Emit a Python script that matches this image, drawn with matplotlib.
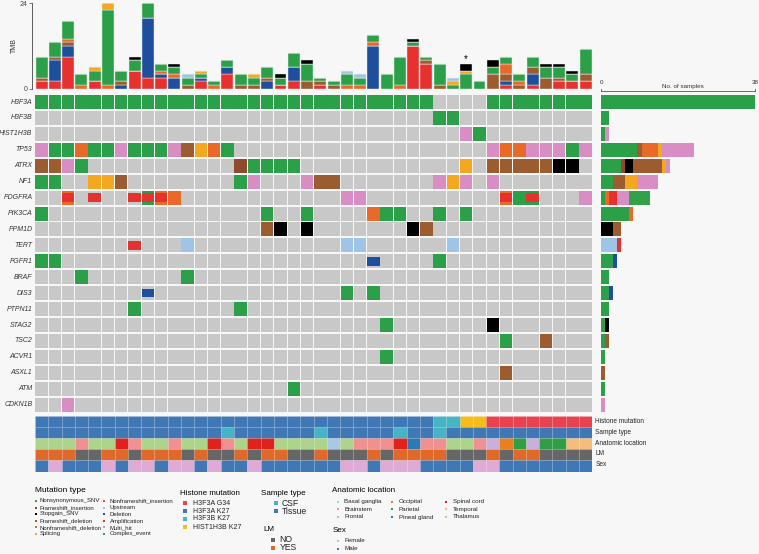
import matplotlib
matplotlib.use("Agg")
import matplotlib.pyplot as plt
from matplotlib.patches import Rectangle

plt.rcParams['font.family'] = ['Liberation Sans', 'DejaVu Sans']

W, H = 759, 554
BG = '#F7F7F7'
GRAY = '#C8C8C8'

# ---------------- data ----------------
genes = ['H3F3A', 'H3F3B', 'HIST1H3B', 'TP53', 'ATRX', 'NF1', 'PDGFRA', 'PIK3CA',
         'PPM1D', 'TERT', 'FGFR1', 'BRAF', 'DIS3', 'PTPN11', 'STAG2', 'TSC2',
         'ACVR1', 'ASXL1', 'ATM', 'CDKN1B']

# one character per sample (42 samples); '.' = no alteration
# N Nonsynonymous_SNV, I Frameshift_insertion, S Stopgain_SNV, D Frameshift_deletion,
# O Nonframeshift_deletion, P Splicing, U Upstream, L Deletion, A Amplification,
# M Multi_hit, a Nonframeshift_deletion+Amplification, b Nonsynonymous_SNV+Amplification
oncomatrix = {
    'H3F3A':    'NNNNNNNNNN NNNNNNNNNN NNNNNNNNNN ....NNNNNN NN',
    'H3F3B':    '.......... .......... .......... NN........ ..',
    'HIST1H3B': '.......... .......... .......... ..MN...... ..',
    'TP53':     'MNNONNMNNN MDPON..... .......... ....MOOMMM NM',
    'ATRX':     'DDMN...... .....INNNN .......... ..P.DDDDDS S.',
    'NF1':      'NN..PPD... .....NM... MDD....... MPM.M..... ..',
    'PDGFRA':   '..a.A..Aba O......... ...MM..... .....aNb.. .M',
    'PIK3CA':   'N......... .......N.. N....ONN.. N.N....... ..',
    'PPM1D':    '.......... .......DS. S.......SD .......... ..',
    'TERT':     '.......A.. .U........ ...UU..... .U........ ..',
    'FGFR1':    'NN........ .......... .....L.... N......... ..',
    'BRAF':     '...N...... .N........ .......... .......... ..',
    'DIS3':     '........L. .......... ...N.N.... .......... ..',
    'PTPN11':   '.......N.. .....N.... .......... .......... ..',
    'STAG2':    '.......... .......... ......N... ....S..... ..',
    'TSC2':     '.......... .......... .......... .....N..D. ..',
    'ACVR1':    '.......... .......... ......N... .......... ..',
    'ASXL1':    '.......... .......... .......... .....D.... ..',
    'ATM':      '.......... .........N .......... .......... ..',
    'CDKN1B':   '..M....... .......... .......... .......... ..',
}

# TMB stacked components per sample
tmb_amplification = [2, 2, 9, 0, 2, 0, 0, 5, 3, 3, 0, 0, 2, 0, 4, 0, 0, 0, 1, 2, 0,
                     1, 0, 0, 0, 0, 0, 0, 12, 7, 0, 0, 0, 0, 0, 1, 0, 1, 0, 2, 2, 2]
tmb_deletion = [0, 6, 3, 0, 0, 0, 1, 0, 17, 1, 3, 0, 1, 0, 2, 0, 0, 2, 0, 4, 0,
                0, 0, 0, 0, 12, 0, 0, 0, 0, 0, 0, 0, 0, 0, 1, 0, 3, 0, 0, 0, 0]
tmb_frameshift = [1, 1, 1, 0, 0, 0, 1, 0, 0, 0, 0, 1, 0, 0, 0, 1, 1, 1, 0, 0, 2,
                  1, 1, 0, 0, 0, 0, 0, 0, 1, 1, 0, 0, 0, 4, 2, 1, 2, 3, 1, 0, 2]
tmb_nonframeshift = [0, 0, 1, 1, 0, 1, 0, 0, 0, 1, 1, 0, 0, 1, 0, 0, 0, 0, 0, 0, 0,
                     0, 0, 1, 1, 1, 0, 1, 0, 0, 0, 0, 0, 0, 0, 3, 1, 0, 0, 0, 0, 0]
tmb_nonsynonymous = [6, 4, 5, 3, 3, 21, 3, 3, 4, 2, 2, 2, 1, 1, 2, 3, 2, 3, 2, 4, 5,
                     1, 1, 3, 2, 2, 4, 8, 1, 1, 6, 1, 4, 2, 2, 2, 2, 3, 3, 3, 2, 7]
tmb_splicing = [0, 0, 0, 0, 1, 2, 0, 0, 0, 0, 0, 0, 1, 0, 0, 0, 1, 0, 0, 0, 0,
                0, 0, 0, 0, 0, 0, 0, 0, 0, 0, 1, 1, 0, 0, 0, 0, 0, 0, 0, 0, 0]
tmb_upstream = [0, 0, 0, 0, 0, 0, 0, 0, 0, 0, 0, 1, 0, 0, 0, 0, 0, 0, 0, 0, 0,
                0, 0, 1, 1, 0, 0, 0, 0, 0, 0, 1, 0, 0, 0, 0, 0, 0, 0, 0, 0, 0]
tmb_stopgain = [0, 0, 0, 0, 0, 0, 0, 1, 0, 0, 1, 0, 0, 0, 0, 0, 0, 0, 1, 0, 1,
                0, 0, 0, 0, 0, 0, 0, 1, 0, 0, 0, 2, 0, 2, 0, 0, 0, 1, 1, 1, 0]
starred_sample = 32

histone = ['H3F3A K27'] * 30 + ['H3F3B K27'] * 2 + ['HIST1H3B K27'] * 2 + ['H3F3A G34'] * 8
csf_samples = [14, 21, 27, 30]
sample_type = ['CSF' if i in csf_samples else 'Tissue' for i in range(42)]
location_codes = ('Th Th Th Bs Th Th SC Bs Th Th Bs Th Th SC Bs Th SC SC Th Th Th '
                  'Th BG Th Bs Bs Bs SC PG Bs Bs Th Th Bs Fr Oc Pa Fr Pa Pa Te Te').split()
location_names = {'BG': 'Basal ganglia', 'Bs': 'Brainstem', 'Fr': 'Frontal',
                  'Oc': 'Occipital', 'Pa': 'Parietal', 'PG': 'Pineal gland',
                  'SC': 'Spinal cord', 'Te': 'Temporal', 'Th': 'Thalamus'}
location = [location_names[c] for c in location_codes]
lm_yes = [0, 1, 2, 5, 6, 8, 9, 10, 12, 15, 17, 18, 21, 25, 27, 28, 29, 30, 34, 36, 37]
lm = ['YES' if i in lm_yes else 'NO' for i in range(42)]
female = [1, 5, 7, 8, 10, 11, 13, 16, 23, 24, 26, 27, 28, 33, 34]
sex = ['Female' if i in female else 'Male' for i in range(42)]

# ---------------- styles ----------------
mut_types = ['Nonsynonymous_SNV', 'Frameshift_insertion', 'Stopgain_SNV',
             'Frameshift_deletion', 'Nonframeshift_deletion', 'Splicing',
             'Nonframeshift_insertion', 'Upstream', 'Deletion', 'Amplification',
             'Multi_hit', 'Complex_event']
mut_colors = {
    'Nonsynonymous_SNV': '#2CA048', 'Frameshift_insertion': '#8E4A2C',
    'Stopgain_SNV': '#000000', 'Frameshift_deletion': '#9B5D30',
    'Nonframeshift_deletion': '#E96A28', 'Splicing': '#F4A720',
    'Nonframeshift_insertion': '#E5562C', 'Upstream': '#9EC5E8',
    'Deletion': '#1E4F9C', 'Amplification': '#E6312E',
    'Multi_hit': '#D88DC3', 'Complex_event': '#33A04A',
}
code_main = {'N': 'Nonsynonymous_SNV', 'I': 'Frameshift_insertion', 'S': 'Stopgain_SNV',
             'D': 'Frameshift_deletion', 'O': 'Nonframeshift_deletion', 'P': 'Splicing',
             'U': 'Upstream', 'M': 'Multi_hit', 'a': 'Nonframeshift_deletion',
             'b': 'Nonsynonymous_SNV'}
code_cnv = {'A': 'Amplification', 'L': 'Deletion', 'a': 'Amplification', 'b': 'Amplification'}
code_class = {'N': 'Nonsynonymous_SNV', 'I': 'Frameshift_insertion', 'S': 'Stopgain_SNV',
              'D': 'Frameshift_deletion', 'O': 'Nonframeshift_deletion', 'P': 'Splicing',
              'U': 'Upstream', 'L': 'Deletion', 'A': 'Amplification', 'M': 'Multi_hit',
              'a': 'Complex_event', 'b': 'Complex_event'}

histone_colors = {'H3F3A G34': '#E8424E', 'H3F3A K27': '#3F78B5',
                  'H3F3B K27': '#46B4C4', 'HIST1H3B K27': '#F5BD1C'}
sample_colors = {'CSF': '#46B4C4', 'Tissue': '#3F78B5'}
loc_colors = {'Basal ganglia': '#A8C8E3', 'Brainstem': '#F09090', 'Frontal': '#C8B0DA',
              'Occipital': '#E8801F', 'Parietal': '#2F9E45', 'Pineal gland': '#2A7AB6',
              'Spinal cord': '#E0221F', 'Temporal': '#F6BC7B', 'Thalamus': '#AED48B'}
lm_colors = {'NO': '#666666', 'YES': '#E0692A'}
sex_colors = {'Female': '#DFAAD6', 'Male': '#3F78B5'}

n = 42
fig = plt.figure(figsize=(W / 100, H / 100), dpi=100, facecolor=BG)


def px_axes(x0, y0, x1, y1):
    ax = fig.add_axes([x0 / W, 1 - y1 / H, (x1 - x0) / W, (y1 - y0) / H])
    ax.set_facecolor('none')
    return ax


# ---------------- TMB bars ----------------
ax_t = px_axes(31.7, 3.3, 592.3, 88.5)
comps = [('Amplification', tmb_amplification), ('Deletion', tmb_deletion),
         ('Frameshift_deletion', tmb_frameshift), ('Nonframeshift_deletion', tmb_nonframeshift),
         ('Nonsynonymous_SNV', tmb_nonsynonymous), ('Splicing', tmb_splicing),
         ('Upstream', tmb_upstream), ('Stopgain_SNV', tmb_stopgain)]
bottom = [0] * n
xs = [i + 0.5 for i in range(n)]
for name, vals in comps:
    ax_t.bar(xs, vals, width=0.9, bottom=bottom, color=mut_colors[name],
             edgecolor='#F0F0F0', linewidth=0.3)
    bottom = [b + v for b, v in zip(bottom, vals)]
ax_t.text(starred_sample + 0.5, bottom[starred_sample] + 1.2, '*', ha='center',
          va='center', fontsize=7)
ax_t.set_xlim(-0.25, n)
ax_t.set_ylim(0, 24)
for s in ['top', 'right', 'bottom']:
    ax_t.spines[s].set_visible(False)
ax_t.spines['left'].set_linewidth(0.6)
ax_t.spines['left'].set_color('#444444')
ax_t.set_xticks([])
ax_t.set_yticks([0, 24])
ax_t.tick_params(axis='y', labelsize=5, length=2, width=0.5, pad=1, colors='#444444')
ax_t.set_ylabel('TMB', fontsize=5, labelpad=1, color='#333333')

# ---------------- oncoprint grid ----------------
ax_g = px_axes(35, 95, 592.3, 413.6)
ax_g.set_xlim(0, n)
ax_g.set_ylim(len(genes), 0)
ax_g.axis('off')
ch = 0.88
counts = {}
for r, g in enumerate(genes):
    row = oncomatrix[g].replace(' ', '')
    counts[g] = {t: 0 for t in mut_types}
    for c, code in enumerate(row):
        ax_g.add_patch(Rectangle((c + 0.03, r), 0.94, ch, facecolor=GRAY, lw=0))
        if code == '.':
            continue
        counts[g][code_class[code]] += 1
        if code in code_main:
            ax_g.add_patch(Rectangle((c + 0.03, r), 0.94, ch,
                                     facecolor=mut_colors[code_main[code]], lw=0))
        if code in code_cnv:
            ih = ch * 0.6
            ax_g.add_patch(Rectangle((c + 0.03, r + (ch - ih) / 2), 0.94, ih,
                                     facecolor=mut_colors[code_cnv[code]], lw=0))
    ax_g.text(-0.2, r + ch / 2, g, ha='right', va='center', fontsize=5,
              style='italic', color='#333333')

# ---------------- right bars ----------------
ax_r = px_axes(601, 95, 755, 413.6)
ax_r.set_xlim(0, 38)
ax_r.set_ylim(len(genes), 0)
ax_r.axis('off')
for r, g in enumerate(genes):
    left = 0
    for t in mut_types:
        v = counts[g][t]
        if v:
            ax_r.barh(r + ch / 2, v, left=left, height=ch, color=mut_colors[t],
                      edgecolor='none')
            left += v

# ---------------- annotation tracks ----------------
ax_a = px_axes(35, 416, 592.3, 471.5)
ax_a.set_xlim(0, n)
ax_a.set_ylim(5, 0)
ax_a.axis('off')
tracks = [(histone, histone_colors), (sample_type, sample_colors),
          (location, loc_colors), (lm, lm_colors), (sex, sex_colors)]
for r, (vals, cmap) in enumerate(tracks):
    for c, v in enumerate(vals):
        ax_a.add_patch(Rectangle((c, r), 1, 1, facecolor=cmap[v],
                                 edgecolor=(1, 1, 1, 0.12), lw=0.4))

# ---------------- overlay for texts and legends ----------------
ov = fig.add_axes([0, 0, 1, 1])
ov.set_xlim(0, W)
ov.set_ylim(H, 0)
ov.axis('off')
ov.set_facecolor('none')

# right axis of counts
ov.plot([601, 755], [90.7, 90.7], color='#555555', lw=0.6)
ov.plot([601, 601], [88.5, 90.7], color='#555555', lw=0.6)
ov.plot([755, 755], [88.5, 90.7], color='#555555', lw=0.6)
ov.text(601, 82.7, '0', fontsize=4.5, ha='center', va='center', color='#333333')
ov.text(755, 82.7, '38', fontsize=4.5, ha='center', va='center', color='#333333')
ov.text(683, 86.5, 'No. of samples', fontsize=4.5, ha='center', va='center',
        color='#333333')

# annotation labels
for y, lab in zip([421.7, 432.0, 443.3, 453.7, 465.0],
                  ['Histone mutation', 'Sample type', 'Anatomic location', 'LM', 'Sex']):
    ov.text(595.3, y, lab, fontsize=4.7, ha='left', va='center', color='#222222')


def legend_items(labels, colors, mx, tx, ys, fs, ms=5):
    for lab, y in zip(labels, ys):
        ov.scatter([mx], [y], marker='s', s=ms, color=colors[lab], lw=0)
        ov.text(tx, y, lab, fontsize=fs, ha='left', va='center', color='#222222')


# mutation type
ov.text(34.7, 490.7, 'Mutation type', fontsize=6, ha='left', va='center')
ys6 = [500.7, 507.7, 514.0, 521.0, 527.4, 534.0]
legend_items(mut_types[:6], mut_colors, 35.6, 40.0, ys6, 4.3, ms=3)
legend_items(mut_types[6:], mut_colors, 103.6, 110.0, ys6, 4.3, ms=3)

# histone mutation
ov.text(180, 493.3, 'Histone mutation', fontsize=5.8, ha='left', va='center')
legend_items(['H3F3A G34', 'H3F3A K27', 'H3F3B K27', 'HIST1H3B K27'], histone_colors,
             185, 192.7, [503.3, 511.3, 519.0, 527.3], 5.0, ms=5)

# sample type
ov.text(260.7, 493.3, 'Sample type', fontsize=5.8, ha='left', va='center')
legend_items(['CSF', 'Tissue'], sample_colors, 275.7, 281.7, [503.3, 511.3], 6.2, ms=5)

# LM
ov.text(263.3, 529.3, 'LM', fontsize=5.8, ha='left', va='center')
legend_items(['NO', 'YES'], lm_colors, 273.3, 279.3, [540.0, 547.7], 6.2, ms=5)

# anatomic location
ov.text(332.3, 490.7, 'Anatomic location', fontsize=5.8, ha='left', va='center')
ys3 = [501.7, 509.3, 517.0]
legend_items(['Basal ganglia', 'Brainstem', 'Frontal'], loc_colors, 337.7, 344.3, ys3, 4.5, ms=4)
legend_items(['Occipital', 'Parietal', 'Pineal gland'], loc_colors, 391.7, 398.7, ys3, 4.5, ms=4)
legend_items(['Spinal cord', 'Temporal', 'Thalamus'], loc_colors, 446.0, 452.7, ys3, 4.5, ms=4)

# sex
ov.text(332.3, 531.0, 'Sex', fontsize=5.8, ha='left', va='center')
legend_items(['Female', 'Male'], sex_colors, 337.7, 344.3, [540.7, 549.0], 4.5, ms=4)

fig.savefig('out.png', dpi=100, facecolor=BG)
